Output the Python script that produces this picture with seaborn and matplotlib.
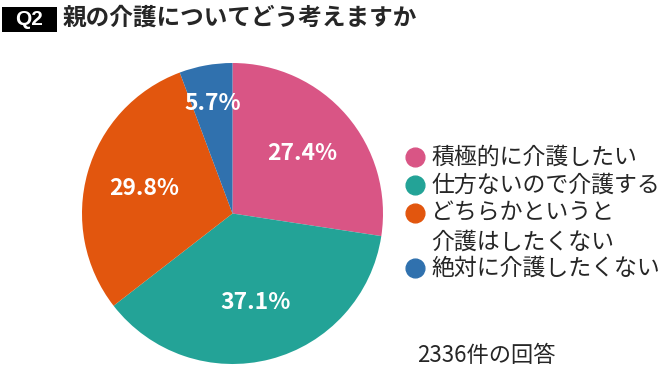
import seaborn as sns
import matplotlib.pyplot as plt
from matplotlib.patches import Rectangle
from matplotlib.lines import Line2D

sns.set_theme(style='white')
plt.rcParams['font.family'] = ['Noto Sans CJK JP', 'DejaVu Sans']

# data
title = '親の介護についてどう考えますか'
answers = ['積極的に介護したい', '仕方ないので介護する', 'どちらかというと\n介護はしたくない', '絶対に介護したくない']
shares = [27.4, 37.1, 29.8, 5.7]
n_responses = 2336

palette = sns.color_palette(['#D95585', '#23A397', '#E2560E', '#3071AE'])

W, H = 670, 374
fig = plt.figure(figsize=(W / 100, H / 100), dpi=100)
fig.patch.set_facecolor('white')

# pie, placed so the circle sits where the reference has it
ax = fig.add_axes([82 / W, 10 / H, 301 / W, 301 / H])
wedges, _, pct_texts = ax.pie(shares, colors=palette, startangle=90, counterclock=False,
                              autopct='%.1f%%', pctdistance=0.61, radius=1,
                              wedgeprops=dict(linewidth=0),
                              textprops=dict(color='white', fontsize=16.5, fontweight='bold'))
# the small slice gets its label pushed out further
for share, t in zip(shares, pct_texts):
    if share < 10:
        x, y = t.get_position()
        t.set_position((x * 0.745 / 0.61, y * 0.745 / 0.61))
ax.set_xlim(-1, 1)
ax.set_ylim(-1, 1)
ax.set_aspect('equal')
ax.axis('off')

# header: black Q2 box + question
fig.patches.append(Rectangle((2 / W, 1 - 32 / H), 55 / W, 25 / H, transform=fig.transFigure,
                             facecolor='black', edgecolor='none'))
fig.text(29.5 / W, 1 - 19.5 / H, 'Q2', color='white', fontsize=15, fontweight='bold',
         ha='center', va='center', family='Liberation Sans')
fig.text(63 / W, 1 - 18 / H, title, fontsize=17, fontweight='bold', ha='left', va='center')

# legend drawn by hand so the marker sits on the first line of each answer
line_y = [157, 185, 213, 242, 268]
row = 0
for label, color in zip(answers, palette):
    lines = label.split('\n')
    y0 = 1 - line_y[row] / H
    fig.add_artist(Line2D([415 / W], [y0], marker='o', markersize=13.5, color=color,
                          transform=fig.transFigure, linestyle='none'))
    for ln in lines:
        fig.text(431 / W, 1 - line_y[row] / H, ln, fontsize=16.5, ha='left', va='center')
        row += 1

fig.text(417 / W, 1 - 356 / H, f'{n_responses}件の回答', fontsize=16, ha='left', va='center')

fig.savefig('out.png', dpi=100)
